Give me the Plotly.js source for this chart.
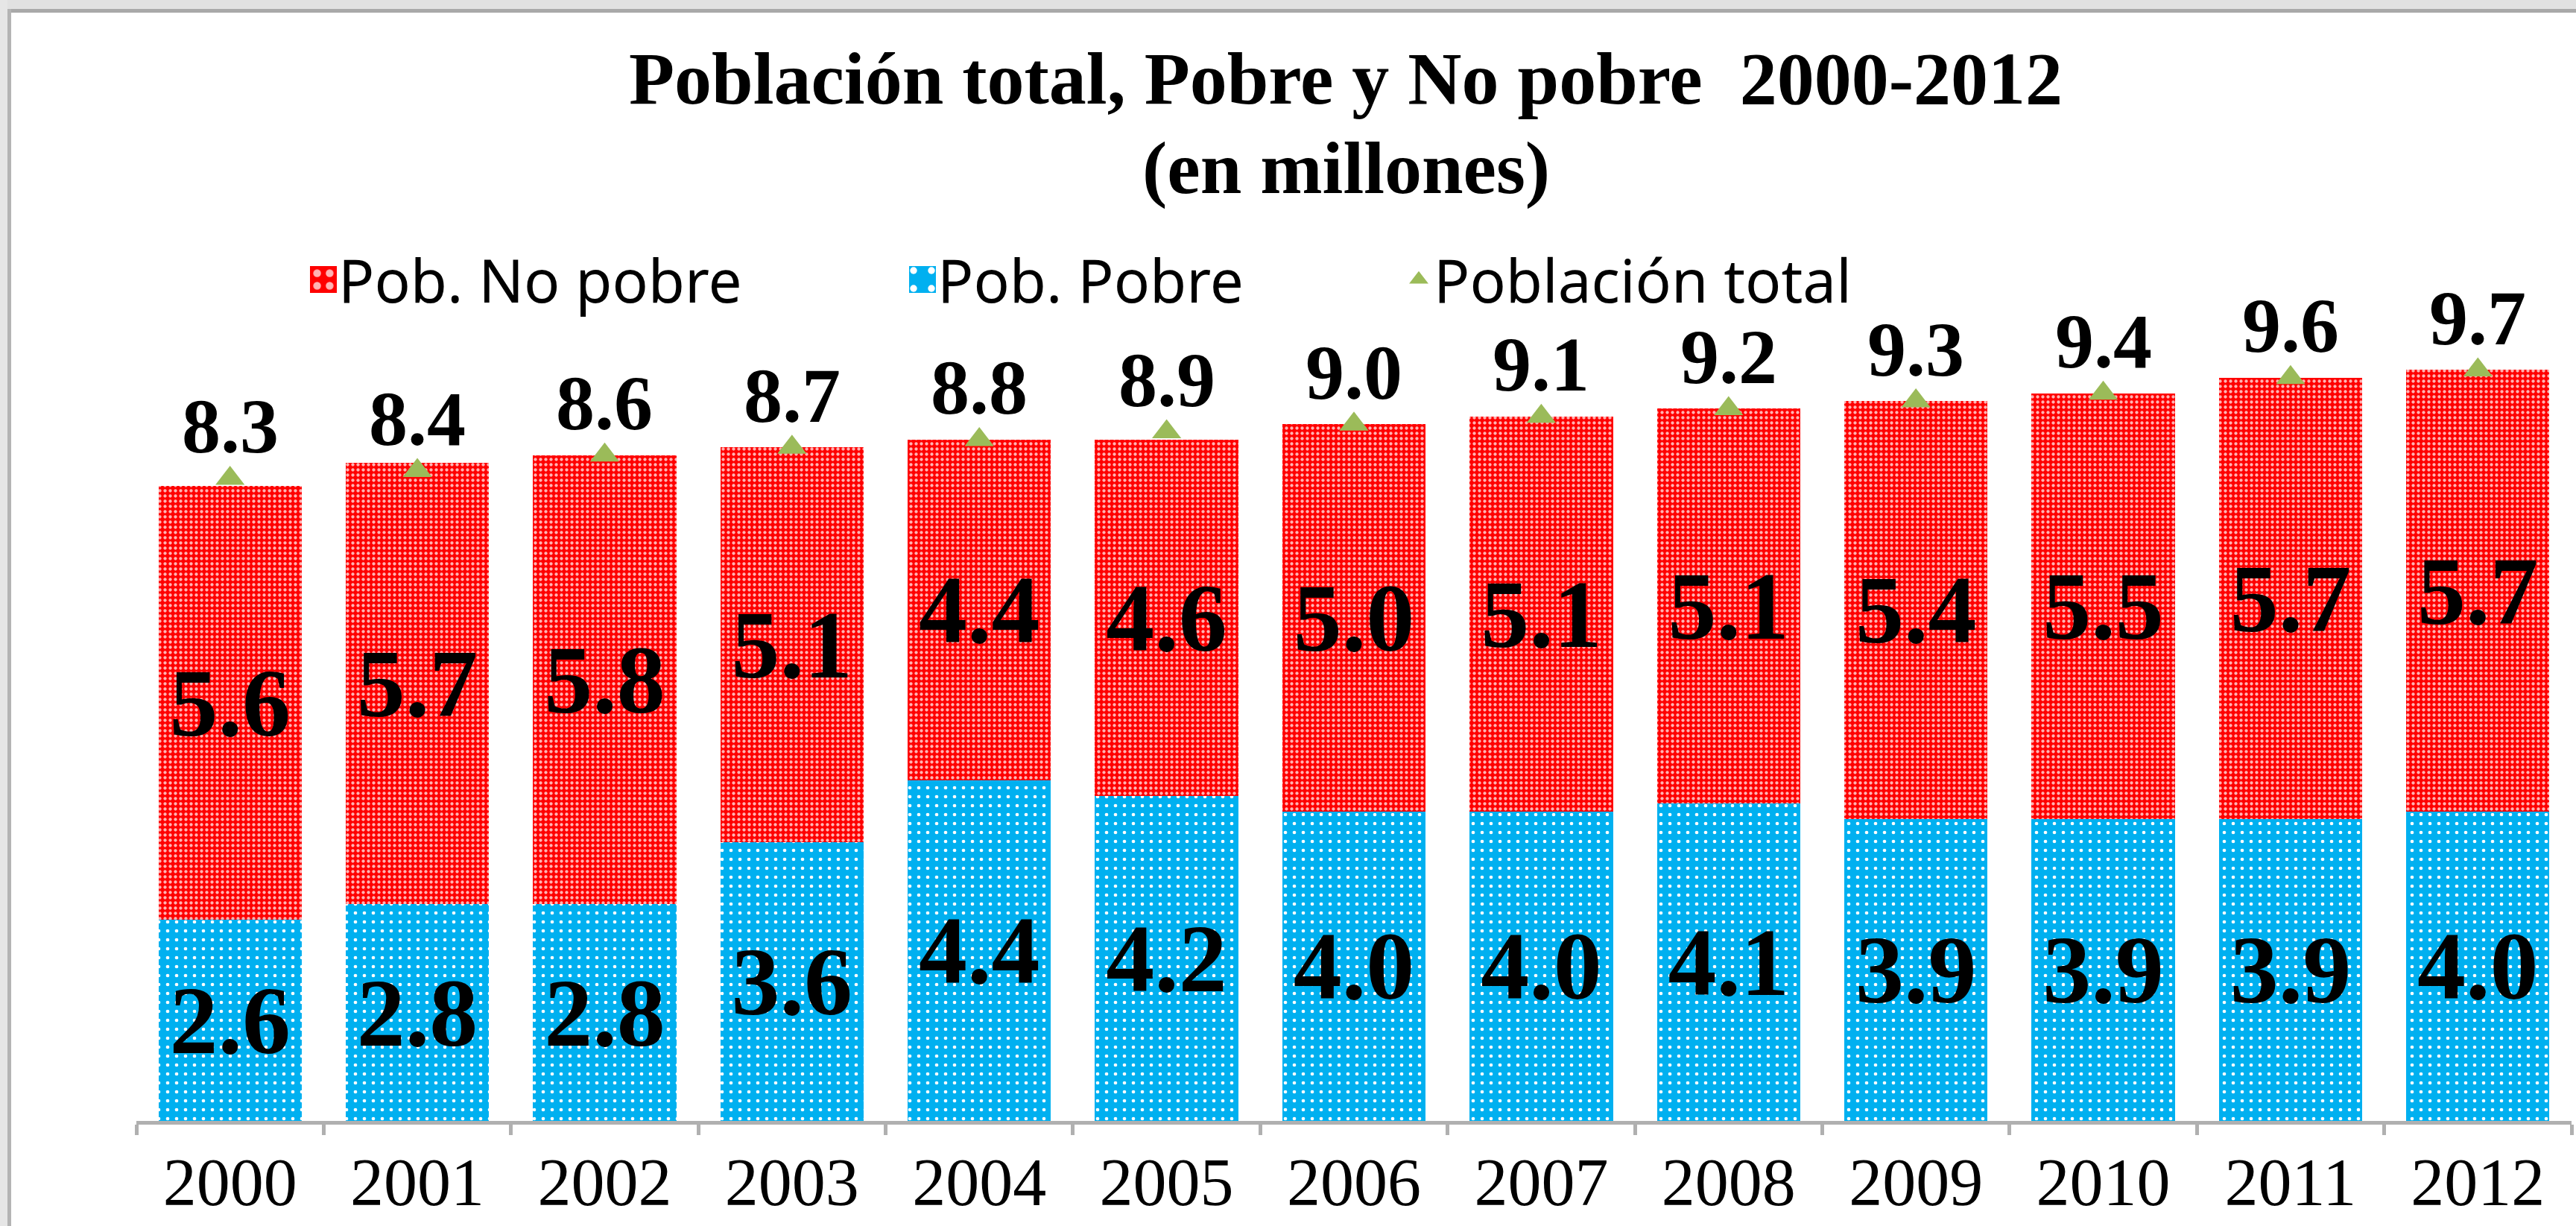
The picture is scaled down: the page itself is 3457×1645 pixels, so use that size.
<!DOCTYPE html>
<html>
<head>
<meta charset="utf-8">
<script src="https://cdn.plot.ly/plotly-3.0.1.min.js"></script>
<style>
  body { margin: 0; background: #fff; }
  #chart { width: 3457px; height: 1645px; }
</style>
</head>
<body>
<div id="chart"></div>
<script>
// data (millions)
const years = ['2000', '2001', '2002', '2003', '2004', '2005', '2006', '2007', '2008', '2009', '2010', '2011', '2012'];
const pobre = [2.6, 2.8, 2.8, 3.6, 4.4, 4.2, 4.0, 4.0, 4.1, 3.9, 3.9, 3.9, 4.0];
const noPobre = [5.6, 5.7, 5.8, 5.1, 4.4, 4.6, 5.0, 5.1, 5.1, 5.4, 5.5, 5.7, 5.7];
const total = [8.3, 8.4, 8.6, 8.7, 8.8, 8.9, 9.0, 9.1, 9.2, 9.3, 9.4, 9.6, 9.7];

const SERIF = 'Liberation Serif, Times New Roman, serif';
const SANS = 'Noto Sans, Open Sans, sans-serif';

const fmt = v => v.toFixed(1);

const barText = {family: SERIF, size: 130, color: '#000', weight: 'bold'};

// page geometry (px), plot area sits between these margins
const L = 183, R = 6, B = 141, T = 403, W = 3457, H = 1645;
const pw = W - L - R, ph = H - T - B;
const px = v => (v - L) / pw;
const py = v => (H - B - v) / ph;

const tracePobre = {
    type: 'bar',
    name: 'Pob. Pobre',
    legend: 'legend2',
    x: years,
    y: pobre,
    text: pobre.map(fmt),
    textposition: 'inside',
    insidetextanchor: 'middle',
    textangle: 0,
    constraintext: 'none',
    textfont: barText,
    marker: {
        color: '#00b0f0',
        line: {width: 0},
        pattern: {shape: '.', fgcolor: '#ffffff', bgcolor: '#00b0f0', size: 12, solidity: 0.12, fillmode: 'replace'}
    },
    hoverinfo: 'skip'
};

const traceNoPobre = {
    type: 'bar',
    name: 'Pob. No pobre',
    legend: 'legend',
    x: years,
    y: noPobre,
    text: noPobre.map(fmt),
    textposition: 'inside',
    insidetextanchor: 'middle',
    textangle: 0,
    constraintext: 'none',
    textfont: barText,
    marker: {
        color: '#ff0000',
        line: {width: 0},
        pattern: {shape: '.', fgcolor: '#ffb3b3', bgcolor: '#ff0000', size: 7, solidity: 0.3, fillmode: 'replace'}
    },
    hoverinfo: 'skip'
};

const traceTotal = {
    type: 'scatter',
    mode: 'markers',
    name: 'Población total',
    legend: 'legend3',
    x: years,
    y: total,
    marker: {symbol: 'triangle-up', size: 34, color: '#9bbb59'},
    cliponaxis: false,
    hoverinfo: 'skip'
};

// total labels sit a fixed distance above each triangle
// (x is the category index: the year strings look numeric to annotations)
const totalLabels = years.map((yr, i) => ({
    x: i,
    y: total[i],
    xref: 'x', yref: 'y',
    text: fmt(total[i]),
    showarrow: false,
    yanchor: 'middle',
    yshift: 70,
    font: {family: SERIF, size: 104, color: '#000', weight: 'bold'}
}));

const legendBase = {
    orientation: 'h',
    xanchor: 'left',
    y: py(375), yanchor: 'middle',
    font: {family: SANS, size: 80, color: '#000'},
    bgcolor: 'rgba(0,0,0,0)'
};

const layout = {
    width: W,
    height: H,
    margin: {l: L, r: R, t: T, b: B},
    paper_bgcolor: '#ffffff',
    plot_bgcolor: '#ffffff',
    barmode: 'stack',
    bargap: 0.235,
    showlegend: true,
    title: {
        text: 'Población total, Pobre y No pobre  2000-2012',
        font: {family: SERIF, size: 100, color: '#000', weight: 'bold'},
        xref: 'paper', x: px(1806), xanchor: 'center',
        yref: 'container', y: 1 - 104 / H, yanchor: 'middle'
    },
    annotations: [{
        text: '(en millones)',
        font: {family: SERIF, size: 100, color: '#000', weight: 'bold'},
        xref: 'paper', yref: 'paper', x: px(1806), y: py(226),
        xanchor: 'center', yanchor: 'middle', showarrow: false
    }].concat(totalLabels),
    legend: Object.assign({}, legendBase, {x: px(459 - 45)}),
    legend2: Object.assign({}, legendBase, {x: px(1263 - 45)}),
    legend3: Object.assign({}, legendBase, {x: px(1929 - 45)}),
    xaxis: {
        type: 'category',
        range: [-0.5, years.length - 0.5],
        automargin: false,
        showline: true,
        linecolor: '#b0b0b0',
        linewidth: 5,
        ticks: 'outside',
        tickson: 'boundaries',
        ticklen: 14,
        tickwidth: 5,
        tickcolor: '#b0b0b0',
        showgrid: false,
        tickfont: {family: SERIF, size: 90, color: '#000'},
        fixedrange: true
    },
    yaxis: {
        range: [0, 10.6],
        automargin: false,
        visible: false,
        showgrid: false,
        zeroline: false,
        fixedrange: true
    },
    shapes: [
        {type: 'rect', xref: 'paper', yref: 'paper', x0: px(0), x1: px(W), y0: py(0), y1: py(12), fillcolor: '#e1e1e1', line: {width: 0}, layer: 'above'},
        {type: 'rect', xref: 'paper', yref: 'paper', x0: px(0), x1: px(W), y0: py(12), y1: py(17), fillcolor: '#a9a9a9', line: {width: 0}, layer: 'above'},
        {type: 'rect', xref: 'paper', yref: 'paper', x0: px(0), x1: px(10), y0: py(0), y1: py(H), fillcolor: '#e6e6e6', line: {width: 0}, layer: 'above'},
        {type: 'rect', xref: 'paper', yref: 'paper', x0: px(10), x1: px(15), y0: py(12), y1: py(H), fillcolor: '#b4b4b4', line: {width: 0}, layer: 'above'}
    ]
};

Plotly.newPlot('chart', [tracePobre, traceNoPobre, traceTotal], layout, {staticPlot: true}).then(gd => {
    // legend swatches are tiny at this size, blow them up a bit
    gd.querySelectorAll('.legendpoints path').forEach(p => {
        const k = p.classList.contains('scatterpts') ? 1.4 : 3.0;
        p.setAttribute('transform', (p.getAttribute('transform') || '') + ' scale(' + k + ')');
    });
});
</script>
</body>
</html>
